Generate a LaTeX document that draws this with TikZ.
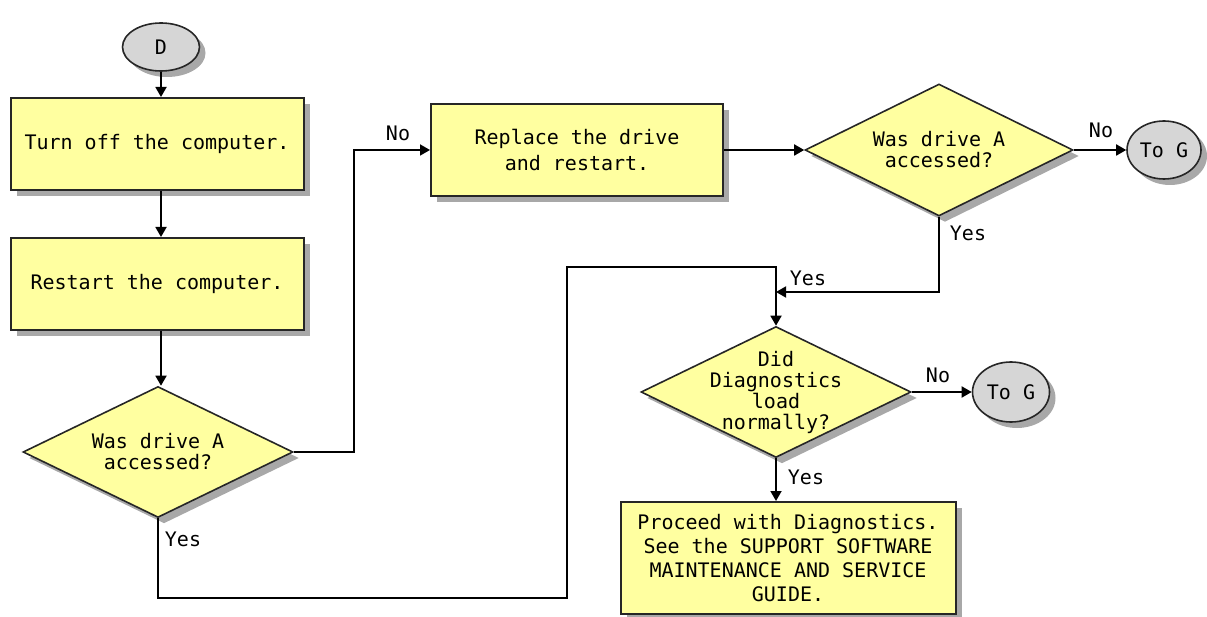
\documentclass[tikz,border=0pt]{standalone}
\usepackage{fontspec}
\setmonofont{DejaVu Sans Mono}
\usetikzlibrary{shapes.geometric,arrows.meta,positioning,shadows}

\definecolor{stepyellow}{RGB}{255,255,160}
\definecolor{connectgray}{RGB}{214,214,214}
\definecolor{shadowgray}{RGB}{168,168,168}

\begin{document}
\begin{tikzpicture}[x=1pt, y=-1pt,
    font=\ttfamily\fontsize{20}{21}\selectfont,
    shade box/.style={drop shadow={shadow xshift=6pt, shadow yshift=-6pt, fill=shadowgray, opacity=1}},
    stepbox/.style={rectangle, draw=black!85, line width=2pt, fill=stepyellow, minimum width=293pt, minimum height=92pt, align=center, shade box},
    decision/.style={diamond, draw=black!85, line width=1.6pt, fill=stepyellow, minimum width=270pt, minimum height=131pt, inner sep=0pt, shade box},
    decision text/.style={align=center},
    connector/.style={ellipse, draw=black!85, line width=1.6pt, fill=connectgray, minimum width=77pt, minimum height=48pt, inner sep=0pt, shade box},
    arrow/.style={-{Triangle[length=10pt,width=11pt]}, line width=1.8pt},
    answer/.style={inner sep=0pt}
]
    \useasboundingbox (0,0) rectangle (1207,617);

    \node[connector] (D) at (161,47) {D};
    \node[stepbox] (off) at (157,144) {Turn off the computer.};
    \node[stepbox] (restart) at (157,284) {Restart the computer.};
    \node[decision, label={[decision text]center:Was drive A\\accessed?}] (checkA) at (158,452) {};

    \node[stepbox, minimum width=292pt, font=\ttfamily\fontsize{20}{26}\selectfont] (replace) at (577,150) {Replace the drive\\and restart.};
    \node[decision, minimum width=268pt, minimum height=132pt, label={[decision text]center:Was drive A\\accessed?}] (recheckA) at (939,150) {};
    \node[connector, minimum width=74pt, minimum height=58pt] (toG1) at (1164,150) {To G};

    \node[decision, label={[decision text]center:Did\\Diagnostics\\load\\normally?}] (diag) at (776,392) {};
    \node[connector, minimum height=60pt] (toG2) at (1011,392) {To G};
    \node[stepbox, minimum width=335pt, minimum height=112pt, font=\ttfamily\fontsize{20}{24}\selectfont] (proceed) at (788,558)
        {Proceed with Diagnostics.\\See the SUPPORT SOFTWARE\\MAINTENANCE AND SERVICE\\GUIDE.};

    % bends of the elbow lines
    \coordinate (jog) at (354,150);
    \coordinate (low) at (567,598);
    \coordinate (high) at (567,267);
    \coordinate (merge) at (776,292);

    \draw[arrow] (D) -- (D |- off.north);
    \draw[arrow] (off.south -| D) -- (restart.north -| D);
    \draw[arrow] (restart.south -| D) -- (checkA.north -| D);
    \draw[arrow] (checkA.east) -| (jog) -- (replace.west);
    \draw[arrow] (replace.east) -- (recheckA.west);
    \draw[arrow] (recheckA.east) -- (toG1.west);
    \draw[arrow] (recheckA.south) |- (merge);
    \draw[arrow] (checkA.south) |- (low) -- (high) -| (diag.north);
    \draw[arrow] (diag.east) -- (toG2.west);
    \draw[arrow] (diag.south) -- (diag.south |- proceed.north);

    \node[answer] (no1) at (398,133) {No};
    \node[answer] (yes1) at (183,539) {Yes};
    \node[answer] (no2) at (1101,130) {No};
    \node[answer] (yes2) at (968,233) {Yes};
    \node[answer] (yes3) at (808,278) {Yes};
    \node[answer] (no3) at (938,375) {No};
    \node[answer] (yes4) at (806,477) {Yes};
\end{tikzpicture}
\end{document}
